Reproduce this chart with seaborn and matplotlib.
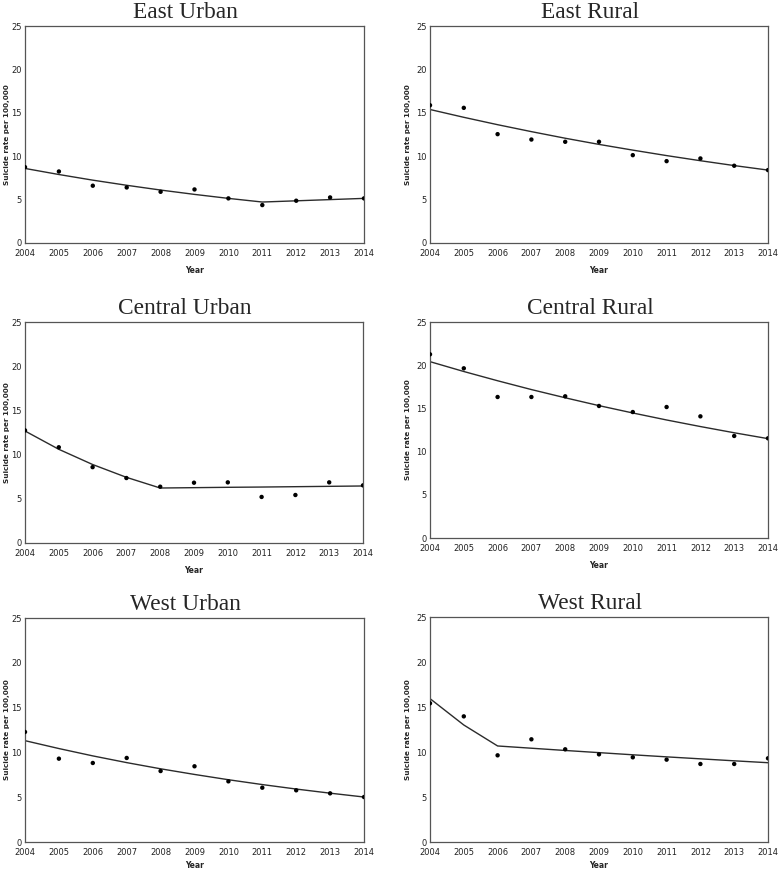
import numpy as np
import pandas as pd
import matplotlib
matplotlib.use("Agg")
import matplotlib.pyplot as plt
import seaborn as sns

# ─────────────────────────────────────────────
# Data
# ─────────────────────────────────────────────
YEARS = list(range(2004, 2015))
PANELS = ["East Urban", "East Rural", "Central Urban",
          "Central Rural", "West Urban", "West Rural"]

east_urban_obs = [8.74, 8.24, 6.60, 6.40, 5.90, 6.17, 5.14, 4.37, 4.87, 5.25, 5.14]
east_urban_fit = [8.59, 7.89, 7.24, 6.65, 6.10, 5.60, 5.14, 4.72, 4.86, 5.00, 5.14]

east_rural_obs = [15.87, 15.57, 12.54, 11.92, 11.66, 11.66, 10.12, 9.43, 9.74, 8.90, 8.40]
east_rural_fit = [15.38, 14.48, 13.63, 12.83, 12.07, 11.36, 10.70, 10.07, 9.48, 8.92, 8.40]

central_urban_obs = [12.74, 10.83, 8.58, 7.35, 6.37, 6.82, 6.86, 5.21, 5.43, 6.86, 6.52]
central_urban_fit = [12.67, 10.60, 8.88, 7.43, 6.22, 6.26, 6.30, 6.33, 6.37, 6.41, 6.45]

central_rural_obs = [21.26, 19.64, 16.32, 16.32, 16.40, 15.28, 14.58, 15.16, 14.08, 11.81, 11.54]
central_rural_fit = [20.41, 19.27, 18.20, 17.18, 16.23, 15.32, 14.47, 13.66, 12.90, 12.18, 11.50]

west_urban_obs = [12.28, 9.30, 8.82, 9.38, 7.92, 8.45, 6.77, 6.06, 5.77, 5.43, 5.02]
west_urban_fit = [11.31, 10.43, 9.61, 8.86, 8.17, 7.54, 6.95, 6.41, 5.91, 5.45, 5.02]

west_rural_obs = [15.41, 13.96, 9.63, 11.41, 10.30, 9.74, 9.41, 9.15, 8.67, 8.67, 9.30]
west_rural_fit = [15.93, 13.00, 10.67, 10.42, 10.17, 9.93, 9.69, 9.46, 9.24, 9.02, 8.81]

OBS = [east_urban_obs, east_rural_obs, central_urban_obs,
       central_rural_obs, west_urban_obs, west_rural_obs]
FIT = [east_urban_fit, east_rural_fit, central_urban_fit,
       central_rural_fit, west_urban_fit, west_rural_fit]

Y_TICKS = [0, 5, 10, 15, 20, 25]

df = pd.concat([
    pd.DataFrame({"panel": p, "Year": YEARS, "obs": o, "fit": f})
    for p, o, f in zip(PANELS, OBS, FIT)
], ignore_index=True)

# ─────────────────────────────────────────────
# Layout (pixel boxes -> figure fractions)
# ─────────────────────────────────────────────
W, H = 778, 871
# left, top, right, bottom in pixels
BOXES = [
    (25, 26, 364, 243), (430, 26, 768, 243),
    (25, 322, 363, 543), (430, 322, 768, 538),
    (25, 618, 364, 842), (430, 617, 768, 842),
]

sns.set_style("white")
plt.rcParams["font.family"] = ["Liberation Sans Narrow", "DejaVu Sans"]

fig = plt.figure(figsize=(W / 100, H / 100), dpi=100)

for i, (panel, (l, t, r, b)) in enumerate(zip(PANELS, BOXES)):
    ax = fig.add_axes([l / W, 1 - b / H, (r - l) / W, (b - t) / H])
    sub = df[df["panel"] == panel]

    sns.lineplot(data=sub, x="Year", y="fit", ax=ax, color="#2b2b2b",
                 linewidth=1.0, estimator=None)
    sns.scatterplot(data=sub, x="Year", y="obs", ax=ax, color="black",
                    s=10, edgecolor="none", zorder=3)

    ax.set_xlim(2004, 2014)
    ax.set_ylim(0, 25)
    ax.set_xticks(YEARS)
    ax.set_yticks(Y_TICKS)
    ax.tick_params(axis="both", labelsize=6, length=2, width=0.6,
                   pad=0.5, color="#555555", labelcolor="#222222")
    ax.tick_params(axis="x", length=0, pad=4)
    for sp in ax.spines.values():
        sp.set_color("#555555")
        sp.set_linewidth(0.9)

    ax.set_xlabel("Year", fontsize=5.5, fontweight="bold",
                  family="DejaVu Sans")
    ax.set_ylabel("Suicide rate per 100,000", fontsize=5.2,
                  fontweight="bold", family="DejaVu Sans")
    gap = 19 if i >= 4 else 23
    ax.xaxis.set_label_coords(0.5, -gap / (b - t))
    ax.yaxis.set_label_coords(-14.5 / (r - l) if l < 100 else -19 / (r - l), 0.5)

    ax.set_title(panel, fontsize=16.8, family="Liberation Serif",
                 x=0.5 - 9 / (r - l), pad=6)

fig.savefig("out.png", dpi=100)
